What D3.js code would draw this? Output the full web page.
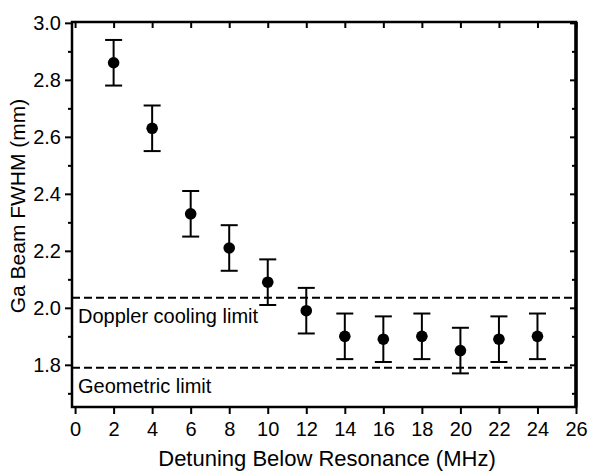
<!DOCTYPE html>
<html>
<head>
<meta charset="utf-8">
<script src="https://cdn.jsdelivr.net/npm/d3@7"></script>
<style>
  body { margin: 0; background: #fff; }
  text { font-family: 'Liberation Sans', Arial, sans-serif; fill: #000; }
</style>
</head>
<body>
<svg class="chart" width="590" height="472"></svg>
<script>
// Data
var detuning = [2, 4, 6, 8, 10, 12, 14, 16, 18, 20, 22, 24];
var fwhm = [2.86, 2.63, 2.33, 2.21, 2.09, 1.99, 1.90, 1.89, 1.90, 1.85, 1.89, 1.90];
var fwhmErr = [0.08, 0.08, 0.08, 0.08, 0.08, 0.08, 0.08, 0.08, 0.08, 0.08, 0.08, 0.08];
var limitNames = ['Doppler cooling limit', 'Geometric limit'];
var limitValues = [2.035, 1.79];
var xTicks = [0, 2, 4, 6, 8, 10, 12, 14, 16, 18, 20, 22, 24, 26];
var yTicks = [1.8, 2.0, 2.2, 2.4, 2.6, 2.8, 3.0];
var yMinor = [1.7, 1.9, 2.1, 2.3, 2.5, 2.7, 2.9];

var margin = {top: 22, right: 14, bottom: 65, left: 72};
var width = 590 - margin.left - margin.right;
var height = 472 - margin.top - margin.bottom;

var x = d3.scaleLinear().domain([-0.16, 26]).range([0, width]);
var y = d3.scaleLinear().domain([1.652, 3.003]).range([height, 0]);

var svg = d3.select('.chart');
var g = svg.append('g')
  .attr('transform', 'translate(' + margin.left + ',' + margin.top + ')');

// Axes
g.append('g')
  .attr('transform', 'translate(0,' + height + ')')
  .call(d3.axisBottom(x).tickValues(xTicks).tickSize(7).tickPadding(8).tickFormat(d3.format('d')));
g.append('g')
  .call(d3.axisBottom(x).tickValues(xTicks).tickSize(6).tickFormat(''));
g.append('g')
  .call(d3.axisLeft(y).tickValues(yTicks).tickSize(7).tickPadding(4).tickFormat(d3.format('.1f')));
g.append('g')
  .call(d3.axisLeft(y).tickValues(yMinor).tickSize(4).tickFormat(''));
g.append('g')
  .attr('transform', 'translate(' + width + ',0)')
  .call(d3.axisLeft(y).tickValues(yTicks).tickSize(6).tickFormat(''));
g.append('g')
  .attr('transform', 'translate(' + width + ',0)')
  .call(d3.axisLeft(y).tickValues(yMinor).tickSize(4).tickFormat(''));

g.selectAll('.domain').remove();
g.selectAll('.tick line').attr('stroke', '#000').attr('stroke-width', 2);
g.selectAll('.tick text')
  .attr('font-family', "'Liberation Sans', Arial, sans-serif")
  .style('font-size', '20px');

// Frame
g.append('rect')
  .attr('x', 0).attr('y', 0)
  .attr('width', width).attr('height', height)
  .attr('fill', 'none').attr('stroke', '#000').attr('stroke-width', 2.5);
g.append('line')
  .attr('x1', width).attr('x2', width)
  .attr('y1', 0).attr('y2', height)
  .attr('stroke', '#000').attr('stroke-width', 3.5);

// Limit lines
var limits = g.selectAll('.limit')
  .data(limitValues)
  .enter().append('g');

limits.append('line')
  .attr('x1', 0).attr('x2', width)
  .attr('y1', function (d) { return y(d); })
  .attr('y2', function (d) { return y(d); })
  .attr('stroke', '#000').attr('stroke-width', 2)
  .attr('stroke-dasharray', '8,4');

limits.append('text')
  .attr('x', 6)
  .attr('y', function (d) { return y(d) + 25; })
  .style('font-size', '20px')
  .text(function (d, i) { return limitNames[i]; });

// Error bars
var pts = g.selectAll('.pt')
  .data(detuning)
  .enter().append('g');

pts.append('line')
  .attr('x1', function (d) { return x(d); })
  .attr('x2', function (d) { return x(d); })
  .attr('y1', function (d, i) { return y(fwhm[i] + fwhmErr[i]); })
  .attr('y2', function (d, i) { return y(fwhm[i] - fwhmErr[i]); })
  .attr('stroke', '#000').attr('stroke-width', 2);

[1, -1].forEach(function (s) {
  pts.append('line')
    .attr('x1', function (d) { return x(d) - 8.5; })
    .attr('x2', function (d) { return x(d) + 8.5; })
    .attr('y1', function (d, i) { return y(fwhm[i] + s * fwhmErr[i]); })
    .attr('y2', function (d, i) { return y(fwhm[i] + s * fwhmErr[i]); })
    .attr('stroke', '#000').attr('stroke-width', 2);
});

pts.append('circle')
  .attr('cx', function (d) { return x(d); })
  .attr('cy', function (d, i) { return y(fwhm[i]); })
  .attr('r', 5.8)
  .attr('fill', '#000');

// Axis titles
svg.append('text')
  .attr('x', 327).attr('y', 466)
  .attr('text-anchor', 'middle')
  .style('font-size', '22px')
  .text('Detuning Below Resonance (MHz)');

svg.append('text')
  .attr('transform', 'translate(25,206) rotate(-90)')
  .attr('text-anchor', 'middle')
  .style('font-size', '21px')
  .text('Ga Beam FWHM (mm)');
</script>
</body>
</html>
